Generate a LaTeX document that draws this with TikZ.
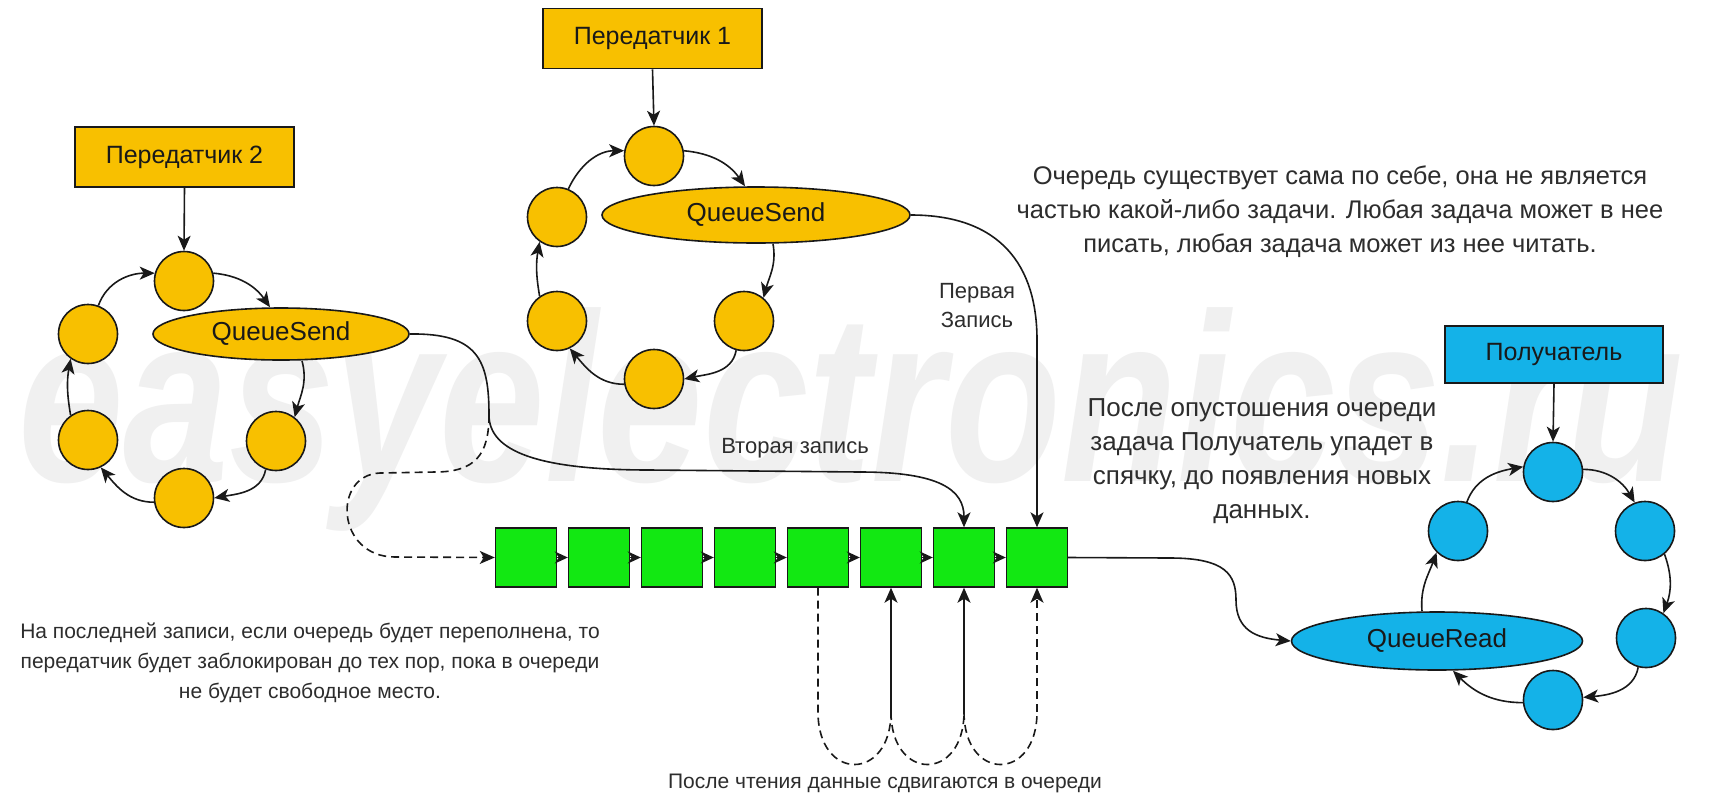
\documentclass[tikz,border=0pt]{standalone}
\usepackage{fontspec}
\setmainfont{Liberation Sans}
\newfontfamily\markfont[FakeStretch=0.79]{Liberation Sans}
\usetikzlibrary{arrows.meta,shapes.geometric}
\definecolor{gold}{RGB}{248,192,0}
\definecolor{sky}{RGB}{20,178,232}
\definecolor{cellgreen}{RGB}{18,232,18}
\definecolor{ink}{RGB}{25,25,25}
\definecolor{prose}{RGB}{45,45,45}
\definecolor{wmark}{RGB}{240,240,240}

\begin{document}
\begin{tikzpicture}[x=1pt,y=1pt,
  edge/.style={line width=1.6pt, draw=ink},
  tip/.style={-{Stealth[length=15pt,width=13pt,inset=4pt]}},
  arr/.style={edge, tip},
  smallarr/.style={edge, -{Stealth[length=13pt,width=12pt,inset=4pt]}},
  dashedge/.style={edge, dash pattern=on 8pt off 5pt},
  taskbox/.style={rectangle, draw=ink, line width=1.6pt, minimum width=219pt,
    minimum height=60pt, inner sep=0pt, font=\fontsize{25}{28}\selectfont, text=ink},
  dot/.style={circle, draw=ink, line width=1.6pt, minimum size=59pt, inner sep=0pt},
  call/.style={ellipse, draw=ink, line width=1.6pt, inner sep=0pt,
    font=\fontsize{26}{28}\selectfont, text=ink},
  cell/.style={rectangle, draw=ink, line width=1.4pt, fill=cellgreen,
    minimum width=61pt, minimum height=59pt, inner sep=0pt},
  note/.style={align=center, text=prose, inner sep=0pt}
]
\fill[white] (0,0) rectangle (1713,-796);
\path[use as bounding box] (0,0) rectangle (1713,-796);

% site mark in the background
\node[anchor=base west, text=wmark, inner sep=0pt,
  font=\markfont\fontsize{240}{240}\selectfont\bfseries\itshape] (wm) at (18,-481) {easyelectronics.ru};

% ---- sender 2 ----
\node[taskbox, fill=gold] (tx2) at (184.5,-157) {Передатчик 2};
\node[dot, fill=gold] (L1) at (184,-281) {};
\node[call, fill=gold, minimum width=256pt, minimum height=52pt] (LE) at (281,-334) {QueueSend};
\node[dot, fill=gold] (L2) at (88,-334) {};
\node[dot, fill=gold] (L3) at (88,-440) {};
\node[dot, fill=gold] (L4) at (184,-498) {};
\node[dot, fill=gold] (L5) at (276,-441) {};

\draw[arr] (tx2.south) -- (L1.north);
\draw[arr] (L1.15) to[out=-5,in=125] ([xshift=-11pt]LE.north);
\draw[arr] ([xshift=21pt]LE.south) to[out=-75,in=75] (L5.52);
\draw[arr] (L5.250) to[out=-100,in=10] (L4.0);
\draw[arr] (L4.188) to[out=180,in=-50] (L3.-65);
\draw[arr] (L3.125) to[out=100,in=-100] (L2.235);
\draw[arr] (L2.70) to[out=70,in=180] (L1.165);

% ---- sender 1 ----
\node[taskbox, fill=gold] (tx1) at (652.5,-38.5) {Передатчик 1};
\node[dot, fill=gold] (M1) at (654,-156) {};
\node[call, fill=gold, minimum width=308pt, minimum height=56pt] (ME) at (756,-215) {QueueSend};
\node[dot, fill=gold] (M2) at (557,-217) {};
\node[dot, fill=gold] (M3) at (557,-321) {};
\node[dot, fill=gold] (M4) at (654,-379) {};
\node[dot, fill=gold] (M5) at (744,-321) {};

\draw[arr] (tx1.south) -- (M1.north);
\draw[arr] (M1.10) to[out=-5,in=125] ([xshift=-11pt]ME.north);
\draw[arr] ([xshift=17pt]ME.south) to[out=-80,in=75] (M5.50);
\draw[arr] (M5.255) to[out=-100,in=12] (M4.0);
\draw[arr] (M4.190) to[out=180,in=-50] (M3.-65);
\draw[arr] (M3.125) to[out=100,in=-100] (M2.235);
\draw[arr] (M2.68) to[out=65,in=180] (M1.170);

% ---- receiver ----
\node[taskbox, fill=sky, minimum width=218pt, minimum height=57pt] (rx) at (1554,-354.5) {Получатель};
\node[dot, fill=sky] (R1) at (1553,-472) {};
\node[dot, fill=sky] (R2) at (1645,-531) {};
\node[dot, fill=sky] (R3) at (1646,-638) {};
\node[dot, fill=sky] (R4) at (1553,-700) {};
\node[call, fill=sky, minimum width=291pt, minimum height=58pt] (RE) at (1437,-641) {QueueRead};
\node[dot, fill=sky] (R6) at (1458,-531) {};

\draw[arr] (rx.south) -- (R1.north);
\draw[arr] (R1.5) to[out=0,in=120] (R2.110);
\draw[arr] (R2.-50) to[out=-70,in=70] (R3.55);
\draw[arr] (R3.255) to[out=-100,in=5] (R4.5);
\draw[arr] (R4.185) to[out=180,in=-45] ([xshift=16pt]RE.south);
\draw[arr] ([xshift=-15pt]RE.north) to[out=95,in=-110] (R6.225);
\draw[arr] (R6.73) to[out=70,in=190] (R1.170);

% ---- the queue ----
\foreach \i in {1,...,8}
  \node[cell] (c\i) at ({526+73*(\i-1)},-557.5) {};
\foreach \i [evaluate=\i as \j using int(\i+1)] in {1,...,7}
  \draw[smallarr] (c\i.east) -- (c\j.west);

% first write: sender 1 into the last cell
\draw[arr] (ME.east) .. controls (1000,-215) and (1037,-265) .. (1037,-340) -- (c8.north);

% second write: sender 2 into cell 7, with the blocked path to cell 1
\coordinate (split) at (489,-415);
\draw[edge] (LE.east) .. controls (478,-333) and (489,-360) .. (split);
\draw[arr] (split) .. controls (489,-452) and (540,-470) .. (650,-470)
  -- (860,-472) .. controls (940,-472) and (964,-490) .. (c7.north);
\draw[dashedge, tip]
  (split) .. controls (489,-455) and (475,-472) .. (435,-472) -- (380,-473)
  .. controls (332,-475) and (336,-557) .. (395,-557) -- (c1.west);

% read: the queue head goes to the receiver
\draw[arr] (c8.east) -- (1170,-558) .. controls (1226,-558) and (1236,-575) .. (1236,-600)
  .. controls (1236,-630) and (1256,-638) .. (RE.west);

% shifting after a read
\coordinate (lvl) at (0,-712);
\coordinate (j5) at (c5.south |- lvl);
\coordinate (j6) at (c6.south |- lvl);
\coordinate (j7) at (c7.south |- lvl);
\coordinate (j8) at (c8.south |- lvl);
\draw[dashedge] (c5.south) -- (j5) .. controls ++(0,-70) and ++(0,-70) .. (j6);
\draw[dashedge] (j6) .. controls ++(0,-70) and ++(0,-70) .. (j7);
\draw[dashedge] (j7) .. controls ++(0,-70) and ++(0,-70) .. (j8);
\draw[arr] (j6) -- (c6.south);
\draw[arr] (j7) -- (c7.south);
\draw[dashedge, tip] (j8) -- (c8.south);

% ---- notes ----
\node[note, font=\fontsize{25.5}{34}\selectfont] (n1) at (1340,-212)
  {Очередь существует сама по себе, она не является\\
   частью какой-либо задачи. Любая задача может в нее\\
   писать, любая задача может из нее читать.};
\node[note, font=\fontsize{26}{34}\selectfont] (n2) at (1262,-461)
  {После опустошения очереди\\ задача Получатель упадет в\\
   спячку, до появления новых\\ данных.};
\node[note, font=\fontsize{21}{30}\selectfont] (n3) at (310,-663)
  {На последней записи, если очередь будет переполнена, то\\
   передатчик будет заблокирован до тех пор, пока в очереди\\
   не будет свободное место.};
\node[note, font=\fontsize{21}{26}\selectfont] (n4) at (885,-783)
  {После чтения данные сдвигаются в очереди};
\node[note, font=\fontsize{22}{26}\selectfont] (n5) at (795,-448) {Вторая запись};
\node[note, font=\fontsize{22}{29}\selectfont] (n6) at (977,-306) {Первая\\ Запись};
\end{tikzpicture}
\end{document}
